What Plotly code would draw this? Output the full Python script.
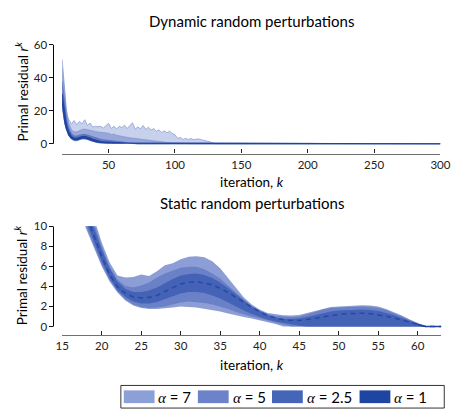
import plotly.graph_objects as go

# page (window) size of the reference and the browser's default body margin
PAGE_W, PAGE_H = 461, 411
OFF = 8
W, H = PAGE_W - OFF, PAGE_H - OFF

# ---------------- data: dynamic random perturbations ----------------
x_dyn = [15, 16, 17, 18, 19, 20, 22, 24, 26, 28,
         30, 32, 34, 36, 38, 40, 42, 44, 46, 48,
         50, 52, 54, 56, 58, 60, 62, 64, 66, 68,
         70, 72, 74, 76, 78, 80, 82, 84, 86, 88,
         90, 92, 94, 96, 98, 100, 102, 104, 106, 108,
         110, 112, 114, 116, 118, 120, 122, 124, 126, 128,
         130, 300]

dyn_u7 = [51, 40, 30, 22, 17, 14.5, 12, 14, 11.5, 13.5,
          12, 14.5, 11, 12.5, 10, 10.5, 10.2, 10.5, 9.5, 10.8,
          12.3, 9.2, 10.5, 9, 10.5, 9.8, 11.2, 9.2, 11, 12.7,
          8.8, 10.2, 9, 11, 8.6, 10, 8.2, 9.2, 7.6, 8.3,
          6.8, 7.8, 6.6, 7.6, 6.2, 5.4, 3.2, 3.8, 2.6, 3.2,
          2.6, 3.1, 2.5, 2.6, 2.9, 2.4, 2.1, 1.6, 1.2, 0.6,
          0, 0]
dyn_l7 = [22, 16.5, 12, 8.8, 6.4, 4.7, 2.8, 1.9, 1.8, 2.3,
          2.8, 2.9, 2.6, 1.9, 1.3, 0.9, 0.6, 0.4, 0.3, 0.3,
          0.3, 0.25, 0.2, 0.15, 0.1, 0.05, 0, 0, 0, 0,
          0, 0, 0, 0, 0, 0, 0, 0, 0, 0,
          0, 0, 0, 0, 0, 0, 0, 0, 0, 0,
          0, 0, 0, 0, 0, 0, 0, 0, 0, 0,
          0, 0]
dyn_u5 = [46, 36, 28, 21, 16, 12.5, 8.5, 7.2, 7.2, 8,
          8.6, 8.9, 8.5, 8.1, 7.6, 7.3, 7.1, 6.9, 6.6, 6.3,
          6.4, 5.6, 5.9, 5.1, 4.7, 4.4, 4.1, 3.9, 3.6, 3.4,
          3.1, 2.9, 2.6, 2.4, 2.1, 1.9, 1.6, 1.4, 1.2, 1.05,
          0.9, 0.8, 0.7, 0.6, 0.5, 0.4, 0.2, 0, 0, 0,
          0, 0, 0, 0, 0, 0, 0, 0, 0, 0,
          0, 0]
dyn_l5 = [23, 17, 12.5, 9.2, 6.8, 5, 3, 2.1, 2, 2.5,
          3, 3.1, 2.8, 2.1, 1.5, 1, 0.7, 0.5, 0.4, 0.4,
          0.4, 0.35, 0.3, 0.2, 0.15, 0.08, 0, 0, 0, 0,
          0, 0, 0, 0, 0, 0, 0, 0, 0, 0,
          0, 0, 0, 0, 0, 0, 0, 0, 0, 0,
          0, 0, 0, 0, 0, 0, 0, 0, 0, 0,
          0, 0]
dyn_u25 = [38, 30, 23, 17, 12.5, 9.6, 6.2, 4.8, 4.7, 5.2,
           5.6, 5.7, 5.4, 4.8, 4.2, 3.6, 3.1, 2.7, 2.4, 2.2,
           2.1, 1.9, 1.7, 1.5, 1.2, 0.9, 0.6, 0.35, 0.15, 0,
           0, 0, 0, 0, 0, 0, 0, 0, 0, 0,
           0, 0, 0, 0, 0, 0, 0, 0, 0, 0,
           0, 0, 0, 0, 0, 0, 0, 0, 0, 0,
           0, 0]
dyn_l25 = [24, 17.5, 12.8, 9.4, 6.9, 5.1, 3.1, 2.2, 2.1, 2.7,
           3.2, 3.3, 3, 2.3, 1.6, 1.1, 0.75, 0.55, 0.45, 0.45,
           0.45, 0.4, 0.35, 0.25, 0.15, 0.08, 0, 0, 0, 0,
           0, 0, 0, 0, 0, 0, 0, 0, 0, 0,
           0, 0, 0, 0, 0, 0, 0, 0, 0, 0,
           0, 0, 0, 0, 0, 0, 0, 0, 0, 0,
           0, 0]
dyn_u1 = [30, 23, 17, 12.5, 9.3, 7, 4.4, 3.3, 3.2, 3.8,
          4.3, 4.4, 4.1, 3.4, 2.7, 2.1, 1.6, 1.3, 1.1, 1,
          0.9, 0.85, 0.75, 0.6, 0.45, 0.3, 0.15, 0, 0, 0,
          0, 0, 0, 0, 0, 0, 0, 0, 0, 0,
          0, 0, 0, 0, 0, 0, 0, 0, 0, 0,
          0, 0, 0, 0, 0, 0, 0, 0, 0, 0,
          0, 0]
dyn_l1 = [25, 18, 13.2, 9.7, 7.1, 5.3, 3.3, 2.4, 2.3, 2.9,
          3.4, 3.5, 3.2, 2.5, 1.8, 1.3, 0.9, 0.65, 0.55, 0.5,
          0.5, 0.45, 0.4, 0.3, 0.2, 0.1, 0, 0, 0, 0,
          0, 0, 0, 0, 0, 0, 0, 0, 0, 0,
          0, 0, 0, 0, 0, 0, 0, 0, 0, 0,
          0, 0, 0, 0, 0, 0, 0, 0, 0, 0,
          0, 0]

# ---------------- data: static random perturbations ----------------
x_sta = [15, 16, 17, 18, 19, 20, 21, 22, 23, 24,
         25, 26, 27, 28, 29, 30, 31, 32, 33, 34,
         35, 36, 37, 38, 39, 40, 41, 42, 43, 44,
         45, 46, 47, 48, 49, 50, 51, 52, 53, 54,
         55, 56, 57, 58, 59, 60, 61, 62, 63]

sta_mean = [18.5, 16, 13.6, 11.3, 9.1, 7.0, 5.2, 3.95, 3.3, 2.95,
            2.85, 2.9, 3.1, 3.5, 3.9, 4.25, 4.4, 4.45, 4.35, 4.15,
            3.8, 3.4, 2.9, 2.4, 1.9, 1.45, 1.1, 0.85, 0.68, 0.6,
            0.6, 0.68, 0.8, 0.95, 1.1, 1.2, 1.28, 1.33, 1.33, 1.28,
            1.18, 1.02, 0.85, 0.65, 0.45, 0.2, 0, 0, 0]
sta_u7 = [24, 21, 17.5, 14, 10.9, 8.4, 6.4, 5.1, 4.9, 4.95,
          5.2, 5.05, 5.5, 6.1, 6.3, 6.7, 6.95, 7.0, 6.9, 6.5,
          5.8, 4.8, 3.8, 2.9, 2.2, 1.7, 1.35, 1.2, 1.12, 1.1,
          1.15, 1.35, 1.55, 1.8, 1.95, 2.0, 2.05, 2.1, 2.12, 2.1,
          2.0, 1.75, 1.45, 1.1, 0.7, 0.35, 0, 0, 0]
sta_l7 = [15.5, 13.5, 11.4, 9.5, 7.8, 6.0, 4.5, 3.4, 2.6, 2.1,
          1.85, 1.75, 1.75, 1.8, 1.9, 2.0, 1.95, 1.9, 1.8, 1.65,
          1.5, 1.3, 1.1, 0.95, 0.8, 0.65, 0.45, 0.25, 0, 0,
          0, 0, 0, 0, 0, 0, 0, 0, 0, 0,
          0, 0, 0, 0, 0, 0, 0, 0, 0]
sta_u5 = [22, 19, 16, 13, 10.4, 8.0, 6.0, 4.7, 4.05, 3.9,
          4.1, 4.4, 4.9, 5.3, 5.6, 5.85, 5.95, 5.95, 5.7, 5.3,
          4.8, 4.1, 3.4, 2.7, 2.0, 1.55, 1.25, 1.05, 0.98, 0.95,
          1.0, 1.2, 1.45, 1.7, 1.85, 1.9, 1.95, 2.0, 2.0, 1.95,
          1.85, 1.65, 1.35, 1.0, 0.65, 0.3, 0, 0, 0]
sta_l5 = [16, 14, 11.8, 9.9, 8.1, 6.2, 4.65, 3.5, 2.7, 2.2,
          1.95, 1.85, 1.9, 2.0, 2.2, 2.4, 2.5, 2.45, 2.35, 2.2,
          2.0, 1.75, 1.45, 1.2, 1.0, 0.8, 0.6, 0.42, 0.2, 0,
          0, 0, 0, 0, 0, 0, 0, 0, 0, 0,
          0, 0, 0, 0, 0, 0, 0, 0, 0]
sta_u25 = [21, 18, 15, 12.3, 9.9, 7.7, 5.8, 4.5, 3.75, 3.45,
           3.45, 3.6, 3.9, 4.35, 4.75, 5.1, 5.25, 5.3, 5.15, 4.85,
           4.4, 3.85, 3.2, 2.6, 2.0, 1.55, 1.15, 0.9, 0.78, 0.75,
           0.8, 0.95, 1.15, 1.35, 1.5, 1.6, 1.65, 1.7, 1.7, 1.65,
           1.55, 1.35, 1.15, 0.85, 0.55, 0.3, 0, 0, 0]
sta_l25 = [16.5, 14.5, 12.3, 10.3, 8.4, 6.5, 4.85, 3.65, 2.95, 2.5,
           2.3, 2.3, 2.45, 2.7, 3.0, 3.3, 3.45, 3.45, 3.35, 3.1,
           2.8, 2.4, 2.0, 1.6, 1.25, 0.95, 0.7, 0.5, 0.35, 0.2,
           0.08, 0, 0, 0, 0, 0, 0, 0, 0, 0,
           0, 0, 0, 0, 0, 0, 0, 0, 0]

alpha_labels = ["7", "5", "2.5", "1"]
dyn_ticks_x = [50, 100, 150, 200, 250, 300]
dyn_ticks_y = [0, 20, 40, 60]
sta_ticks_x = [15, 20, 25, 30, 35, 40, 45, 50, 55, 60]
sta_ticks_y = [0, 2, 4, 6, 8, 10]

for arr in [dyn_u7, dyn_l7, dyn_u5, dyn_l5, dyn_u25, dyn_l25, dyn_u1, dyn_l1]:
    assert len(arr) == len(x_dyn)
for arr in [sta_mean, sta_u7, sta_l7, sta_u5, sta_l5, sta_u25, sta_l25]:
    assert len(arr) == len(x_sta)

# ---------------- styles ----------------
FONT = "Lato"
legend_colors = ["#8c9fd6", "#6c82c9", "#4565b8", "#1f45a3"]
top_fill = ["#c8d1ec", "#97a7da", "#6079c3", "#2247a5"]
top_line = ["#8d9ed5", "#7d90d0", "#5069bb", "#1f44a0"]
top_lw = [0.8, 0.6, 0.6, 1.2]
bot_fill = ["#8c9ed5", "#6b81c7", "#4463b6"]


def px(xp):
    """page x-pixel -> paper fraction"""
    return (xp - OFF) / W


def py(yp):
    """page y-pixel -> paper fraction"""
    return 1 - (yp - OFF) / H


def band(x, lo, hi, fill, lcol, lw, xa, ya):
    return go.Scatter(x=list(x) + list(x)[::-1], y=list(hi) + list(lo)[::-1],
                      fill="toself", fillcolor=fill, mode="lines",
                      line=dict(color=lcol, width=lw), hoverinfo="skip",
                      showlegend=False, xaxis=xa, yaxis=ya)


fig = go.Figure()

dyn_bands = [(dyn_l7, dyn_u7), (dyn_l5, dyn_u5), (dyn_l25, dyn_u25), (dyn_l1, dyn_u1)]
for i, (lo, hi) in enumerate(dyn_bands):
    fig.add_trace(band(x_dyn, lo, hi, top_fill[i], top_line[i], top_lw[i], "x", "y"))

sta_bands = [(sta_l7, sta_u7), (sta_l5, sta_u5), (sta_l25, sta_u25)]
for i, (lo, hi) in enumerate(sta_bands):
    fig.add_trace(band(x_sta, lo, hi, bot_fill[i], bot_fill[i], 0, "x2", "y2"))

fig.add_trace(go.Scatter(x=x_sta, y=sta_mean, mode="lines",
                         line=dict(color="#2648a6", width=1.5, dash="5px,4px"),
                         hoverinfo="skip", showlegend=False, xaxis="x2", yaxis="y2"))
k0 = next(i for i, v in enumerate(sta_mean) if v == 0) - 1
fig.add_trace(go.Scatter(x=x_sta[k0:], y=sta_mean[k0:], mode="lines",
                         line=dict(color="#1f44a0", width=1.5),
                         hoverinfo="skip", showlegend=False, xaxis="x2", yaxis="y2"))

# ---------------- axes geometry (page pixels) ----------------
top_y0_px, top_y60_px, top_axis_px = 139, 38, 149
bot_y0_px, bot_y10_px, bot_axis_px = 325, 223, 334
yax_px = 48

top_unit = (top_y0_px - top_y60_px) / 60.0
bot_unit = (bot_y0_px - bot_y10_px) / 10.0
top_ymin = -(top_axis_px - top_y0_px) / top_unit
bot_ymin = -(bot_axis_px - bot_y0_px) / bot_unit

tickfont = dict(family=FONT, size=11.5, color="#222")
xcommon = dict(showgrid=False, zeroline=False, showline=True, linecolor="#707070",
               linewidth=1.4, ticks="inside", ticklen=4, tickcolor="#222", tickwidth=1,
               tickfont=tickfont)
ycommon = dict(showgrid=False, zeroline=False, showline=False, ticks="outside",
               ticklen=4, tickcolor="#111", tickwidth=1, tickfont=tickfont,
               anchor="free", position=px(yax_px))

fig.update_layout(
    width=W, height=H, margin=dict(l=0, r=0, t=0, b=0),
    paper_bgcolor="white", plot_bgcolor="white", showlegend=False,
    xaxis=dict(domain=[px(57), px(450)], range=[15, 300], tickvals=dyn_ticks_x,
               anchor="y", **xcommon),
    yaxis=dict(domain=[py(top_axis_px), py(top_y60_px)], range=[top_ymin, 60],
               tickvals=dyn_ticks_y, **ycommon),
    xaxis2=dict(domain=[px(57), px(451)], range=[15, 63], tickvals=sta_ticks_x,
                anchor="y2", **xcommon),
    yaxis2=dict(domain=[py(bot_axis_px), py(bot_y10_px)], range=[bot_ymin, 10],
                tickvals=sta_ticks_y, **ycommon),
)

shapes = [
    dict(type="line", xref="paper", yref="y", x0=px(yax_px), x1=px(yax_px), y0=0, y1=60,
         line=dict(color="black", width=1)),
    dict(type="line", xref="paper", yref="y2", x0=px(yax_px), x1=px(yax_px), y0=0, y1=10,
         line=dict(color="black", width=1)),
]

# legend drawn manually (wide swatches)
leg_top, leg_bot = 385, 408
leg_left, leg_right = 118, 454
sw_w, sw_h = 32, 13
text_w = [38, 38, 52, 38]
shapes.append(dict(type="rect", xref="paper", yref="paper", x0=px(leg_left), x1=px(leg_right),
                   y0=py(leg_bot), y1=py(leg_top), line=dict(color="black", width=0.8),
                   fillcolor="white", layer="below"))
annotations = []
s = 121
ymid = (leg_top + leg_bot) / 2
for lab, col, tw in zip(alpha_labels, legend_colors, text_w):
    shapes.append(dict(type="rect", xref="paper", yref="paper", x0=px(s), x1=px(s + sw_w),
                       y0=py(ymid + sw_h / 2), y1=py(ymid - sw_h / 2),
                       line=dict(width=0), fillcolor=col))
    annotations.append(dict(xref="paper", yref="paper", x=px(s + sw_w + 2), y=py(ymid),
                            xanchor="left", yanchor="middle", showarrow=False,
                            text="<span style='font-family:Liberation Serif;font-style:italic'>α</span> = " + lab,
                            font=dict(family=FONT, size=15, color="black")))
    s += sw_w + 2 + tw + 5

titlefont = dict(family=FONT, size=15, color="black")
labfont = dict(family=FONT, size=13.5, color="black")
annotations += [
    dict(xref="paper", yref="paper", x=px(254), y=py(14), text="Dynamic random perturbations",
         showarrow=False, xanchor="center", yanchor="middle", font=titlefont),
    dict(xref="paper", yref="paper", x=px(254), y=py(199), text="Static random perturbations",
         showarrow=False, xanchor="center", yanchor="middle", font=titlefont),
    dict(xref="paper", yref="paper", x=px(254), y=py(178), text="iteration, <i>k</i>",
         showarrow=False, xanchor="center", yanchor="middle", font=labfont),
    dict(xref="paper", yref="paper", x=px(254), y=py(364), text="iteration, <i>k</i>",
         showarrow=False, xanchor="center", yanchor="middle", font=labfont),
    dict(xref="paper", yref="paper", x=px(15), y=py(86),
         text="Primal residual <i>r</i><sup><i>k</i></sup>", textangle=-90,
         showarrow=False, xanchor="center", yanchor="middle", font=labfont),
    dict(xref="paper", yref="paper", x=px(15), y=py(273),
         text="Primal residual <i>r</i><sup><i>k</i></sup>", textangle=-90,
         showarrow=False, xanchor="center", yanchor="middle", font=labfont),
]

fig.update_layout(shapes=shapes, annotations=annotations)
fig.write_html("out.html")
